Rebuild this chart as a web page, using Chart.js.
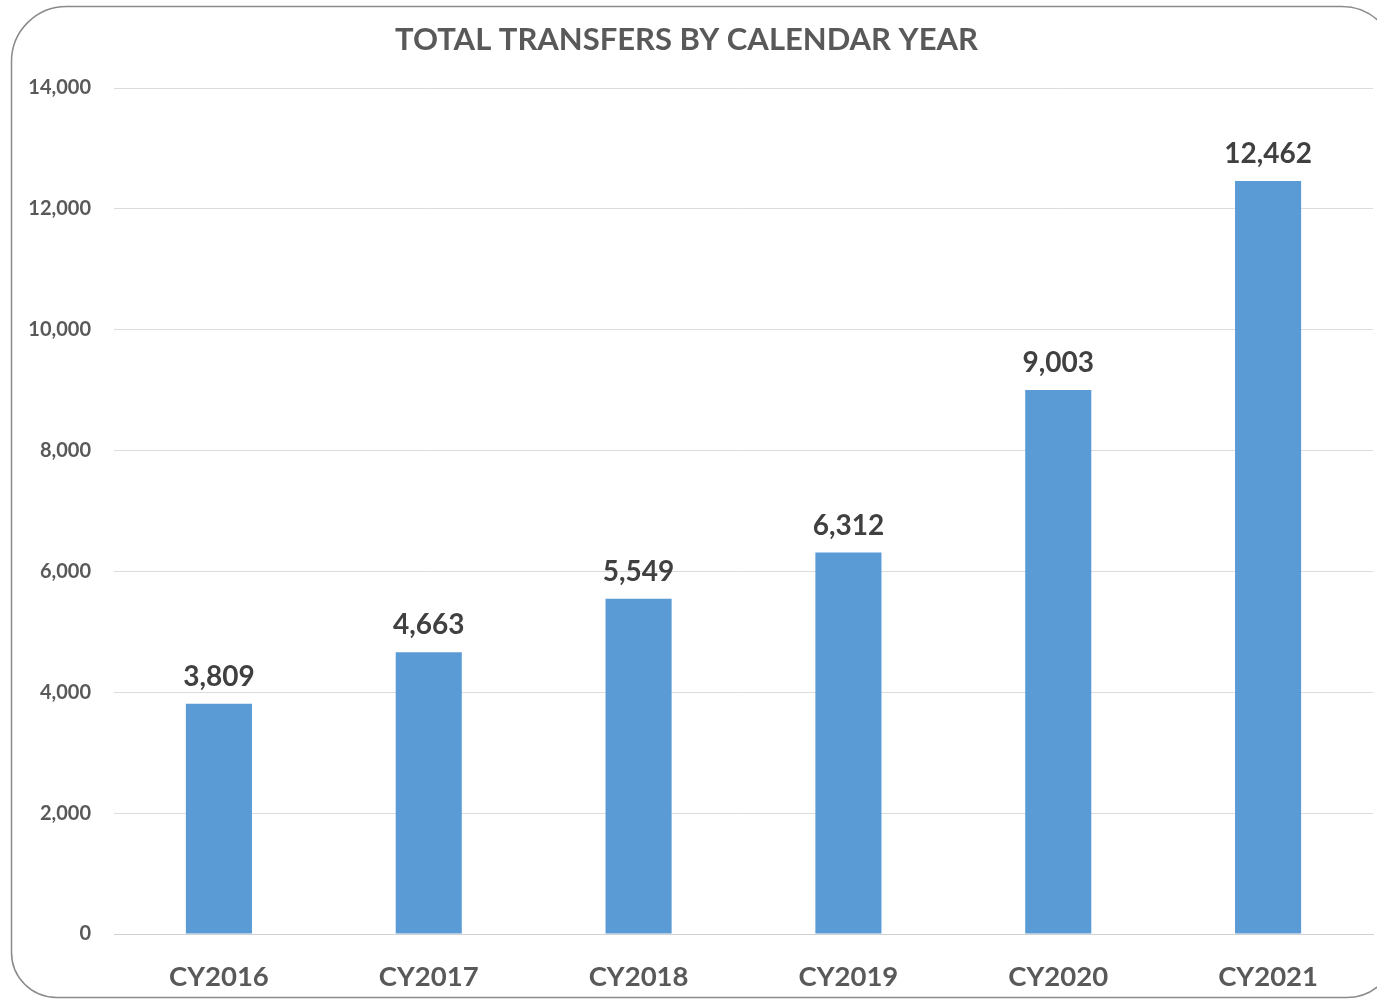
<!DOCTYPE html>
<html>
<head>
<meta charset="utf-8">
<script src="https://cdn.jsdelivr.net/npm/chart.js@4"></script>
<style>
  html, body { margin: 0; padding: 0; background: #ffffff; }
  #wrap { width: 1377px; height: 1000px; position: relative; }
</style>
</head>
<body>
<div id="wrap"><canvas id="c" width="1377" height="1000"></canvas></div>
<script>
const categories = ["CY2016", "CY2017", "CY2018", "CY2019", "CY2020", "CY2021"];
const transfers = [3809, 4663, 5549, 6312, 9003, 12462];
const titleText = "TOTAL TRANSFERS BY CALENDAR YEAR";
const yMin = 0, yMax = 14000, yStep = 2000;

const FONT = "Lato, 'Open Sans', 'DejaVu Sans', sans-serif";

const frame = {
  id: 'frame',
  beforeDraw(chart) {
    const ctx = chart.ctx;
    ctx.save();
    ctx.fillStyle = '#ffffff';
    ctx.fillRect(0, 0, chart.width, chart.height);
    ctx.strokeStyle = '#8a8a8a';
    ctx.lineWidth = 1.5;
    ctx.beginPath();
    ctx.roundRect(11.5, 6.5, 1385, 991, [55, 55, 50, 45]);
    ctx.stroke();
    ctx.restore();
  }
};

const valueLabels = {
  id: 'valueLabels',
  afterDatasetsDraw(chart) {
    const ctx = chart.ctx;
    const meta = chart.getDatasetMeta(0);
    ctx.save();
    ctx.font = "bold 28px " + FONT;
    ctx.fillStyle = '#404040';
    ctx.textAlign = 'center';
    ctx.textBaseline = 'middle';
    meta.data.forEach((bar, i) => {
      const v = chart.data.datasets[0].data[i];
      ctx.fillText(v.toLocaleString('en-US'), bar.x, bar.y - 27);
    });
    ctx.restore();
  }
};

new Chart(document.getElementById('c'), {
  type: 'bar',
  data: {
    labels: categories,
    datasets: [{
      data: transfers,
      backgroundColor: '#5B9BD5',
      borderWidth: 0,
      categoryPercentage: 1.0,
      barPercentage: 0.315
    }]
  },
  options: {
    responsive: false,
    animation: false,
    devicePixelRatio: 1,
    layout: { padding: { top: 6, right: 4, bottom: 0, left: 0 } },
    plugins: {
      legend: { display: false },
      tooltip: { enabled: false },
      title: {
        display: true,
        text: titleText,
        color: '#595959',
        font: { family: FONT, size: 31, weight: 'bold' },
        padding: { top: 15, bottom: 29.8 }
      }
    },
    scales: {
      x: {
        grid: { display: false, drawTicks: false },
        border: { display: true, color: '#d0d0d0', width: 1 },
        ticks: {
          color: '#595959',
          font: { family: FONT, size: 27.5, weight: 'bold' },
          padding: 27
        },
        afterFit(scale) { scale.height = 66; }
      },
      y: {
        min: yMin,
        max: yMax,
        grid: { color: '#dcdcdc', lineWidth: 1, drawTicks: false },
        border: { display: false },
        ticks: {
          stepSize: yStep,
          color: '#595959',
          font: { family: FONT, size: 20, weight: 'bold' },
          padding: 23,
          callback: (v) => v.toLocaleString('en-US')
        },
        afterFit(scale) { scale.width = 114; }
      }
    }
  },
  plugins: [frame, valueLabels]
});
</script>
</body>
</html>
